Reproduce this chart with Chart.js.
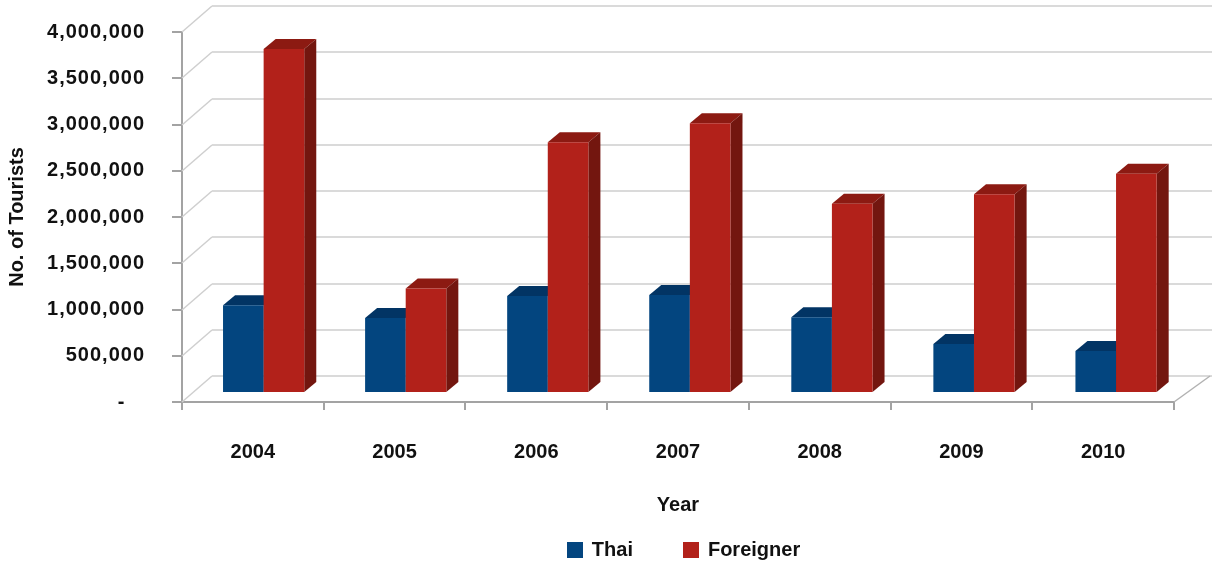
<!DOCTYPE html>
<html>
<head>
<meta charset="utf-8">
<title>No. of Tourists by Year</title>
<script src="https://cdn.jsdelivr.net/npm/chart.js@4/dist/chart.umd.min.js"></script>
<style>
  html, body { margin: 0; padding: 0; background: #ffffff; }
  canvas { display: block; }
</style>
</head>
<body>
<canvas id="chart" width="1212" height="562"></canvas>
<script>
// Visitors per year, split by origin
const years = ['2004', '2005', '2006', '2007', '2008', '2009', '2010'];
const thaiVisitors = [950000, 810000, 1050000, 1060000, 820000, 530000, 455000];
const foreignVisitors = [3720000, 1130000, 2710000, 2915000, 2045000, 2150000, 2370000];

// Value axis
const yTicks = [0, 500000, 1000000, 1500000, 2000000, 2500000, 3000000, 3500000, 4000000];
const yTickLabels = ['-', '500,000', '1,000,000', '1,500,000', '2,000,000', '2,500,000', '3,000,000', '3,500,000', '4,000,000'];

const seriesNames = ['Thai', 'Foreigner'];

// Face shading for the extruded columns (front, top, right side)
const shades = [
  { front: '#03457f', top: '#023464', side: '#022a52' },
  { front: '#b2211a', top: '#8c1a12', side: '#73160f' }
];

// Oblique projection settings
const WALL = { dxL: 30, dxR: 36, dy: -26 };     // back wall / floor depth
const PLANE = { dx: 10.6, dy: -9, sx: 1.0025 };  // plane the columns stand in
const BAR_DEPTH = { dx: 12, dy: -10 };           // depth of each column

const AXIS_GREY = '#a3a3a3';

Chart.defaults.font.family = "'Liberation Sans', Arial, Helvetica, sans-serif";
Chart.defaults.font.size = 20;
Chart.defaults.font.weight = 'bold';
Chart.defaults.color = '#111111';

function line(ctx, x1, y1, x2, y2) {
  ctx.beginPath();
  ctx.moveTo(x1, y1);
  ctx.lineTo(x2, y2);
  ctx.stroke();
}

function quad(ctx, pts, color) {
  ctx.beginPath();
  ctx.moveTo(pts[0][0], pts[0][1]);
  for (let k = 1; k < pts.length; k++) ctx.lineTo(pts[k][0], pts[k][1]);
  ctx.closePath();
  ctx.fillStyle = color;
  ctx.fill();
}

const box3d = {
  id: 'box3d',
  afterLayout(chart) {
    // slightly looser tracking for the value-axis numbers
    const ys = chart.scales.y;
    if (!ys._trackedLabels) {
      const orig = ys.drawLabels.bind(ys);
      ys.drawLabels = function (area) {
        const ctx = this.ctx;
        ctx.save();
        ctx.letterSpacing = '1px';
        orig(area);
        ctx.restore();
      };
      ys._trackedLabels = true;
    }
  },
  beforeDatasetsDraw(chart) {
    const ctx = chart.ctx;
    const { left, right, bottom } = chart.chartArea;
    const yScale = chart.scales.y;

    // walls: left-wall diagonals and back-wall gridlines
    ctx.save();
    ctx.lineCap = 'butt';
    yTicks.forEach(v => {
      const y = Math.round(yScale.getPixelForValue(v));
      ctx.strokeStyle = '#cfcfcf';
      ctx.lineWidth = 1.5;
      line(ctx, left, y, left + WALL.dxL, y + WALL.dy);
      ctx.strokeStyle = '#dadada';
      ctx.lineWidth = 2;
      line(ctx, left + WALL.dxL, y + WALL.dy, right + WALL.dxR + 4, y + WALL.dy);
    });
    // floor, right edge
    ctx.strokeStyle = '#b2b2b2';
    ctx.lineWidth = 1.5;
    line(ctx, right, bottom, right + WALL.dxR, bottom + WALL.dy);
    ctx.restore();

    // columns, painted left to right so nearer faces cover farther ones
    const metas = chart.getSortedVisibleDatasetMetas();
    ctx.save();
    ctx.translate(left + PLANE.dx, PLANE.dy);
    ctx.scale(PLANE.sx, 1);
    ctx.translate(-left, 0);
    for (let i = 0; i < years.length; i++) {
      metas.forEach((meta, di) => {
        const el = meta.data[i];
        if (!el) return;
        const p = el.getProps(['x', 'y', 'base', 'width'], true);
        const x0 = p.x - p.width / 2;
        const x1 = p.x + p.width / 2;
        const s = shades[di];
        quad(ctx, [[x0, p.y], [x1, p.y], [x1 + BAR_DEPTH.dx, p.y + BAR_DEPTH.dy], [x0 + BAR_DEPTH.dx, p.y + BAR_DEPTH.dy]], s.top);
        quad(ctx, [[x1, p.y], [x1 + BAR_DEPTH.dx, p.y + BAR_DEPTH.dy], [x1 + BAR_DEPTH.dx, p.base + BAR_DEPTH.dy], [x1, p.base]], s.side);
        el.draw(ctx);
      });
    }
    ctx.restore();
    return false;
  },
  afterDraw(chart) {
    // legend row under the axis title
    const ctx = chart.ctx;
    const { left, right } = chart.chartArea;
    const boxSize = 16, boxGap = 9, itemGap = 50;
    ctx.save();
    ctx.font = "bold 20px 'Liberation Sans', Arial, Helvetica, sans-serif";
    ctx.textBaseline = 'middle';
    ctx.textAlign = 'left';
    const items = chart.data.datasets.map(ds => ({
      text: ds.label, color: ds.backgroundColor, w: ctx.measureText(ds.label).width
    }));
    let total = 0;
    items.forEach((it, k) => { total += boxSize + boxGap + it.w + (k ? itemGap : 0); });
    let x = (left + right) / 2 + 5.5 - total / 2;
    const cy = 549.5;
    items.forEach(it => {
      ctx.fillStyle = it.color;
      ctx.fillRect(Math.round(x), Math.round(cy - boxSize / 2), boxSize, boxSize);
      ctx.fillStyle = '#111111';
      ctx.fillText(it.text, x + boxSize + boxGap, cy + 1);
      x += boxSize + boxGap + it.w + itemGap;
    });
    ctx.restore();
  }
};

new Chart(document.getElementById('chart'), {
  type: 'bar',
  data: {
    labels: years,
    datasets: [
      { label: seriesNames[0], data: thaiVisitors, backgroundColor: shades[0].front, borderWidth: 0 },
      { label: seriesNames[1], data: foreignVisitors, backgroundColor: shades[1].front, borderWidth: 0 }
    ]
  },
  options: {
    responsive: false,
    animation: false,
    events: [],
    layout: { autoPadding: false, padding: { left: 5, right: 38, top: 32, bottom: 45 } },
    datasets: { bar: { categoryPercentage: 0.5716, barPercentage: 1 } },
    plugins: {
      legend: { display: false },
      tooltip: { enabled: false }
    },
    scales: {
      x: {
        offset: true,
        grid: { display: true, offset: true, drawOnChartArea: false, drawTicks: true, tickLength: 8, color: AXIS_GREY, lineWidth: 2 },
        border: { display: true, color: AXIS_GREY, width: 2 },
        ticks: { padding: 30, color: '#111111' },
        title: { display: true, text: 'Year', padding: 0, color: '#111111' },
        afterFit(scale) { scale.height = 115; }
      },
      y: {
        min: 0,
        max: 4000000,
        afterBuildTicks(scale) { scale.ticks = yTicks.map(v => ({ value: v })); },
        grid: { display: true, drawOnChartArea: false, drawTicks: true, tickLength: 10, color: AXIS_GREY, lineWidth: 2 },
        border: { display: true, color: AXIS_GREY, width: 2 },
        ticks: {
          padding: 27,
          color: '#111111',
          callback(value, index) {
            const t = yTickLabels[index];
            return t === '-' ? t + '   ' : t;
          }
        },
        title: { display: true, text: 'No. of Tourists', padding: 0, color: '#111111' },
        afterFit(scale) {
          scale.width = 177;
          // the outer layout padding already leaves room for the end labels
          scale.paddingTop = 0;
          scale.paddingBottom = 0;
        }
      }
    }
  },
  plugins: [box3d]
});
</script>
</body>
</html>
